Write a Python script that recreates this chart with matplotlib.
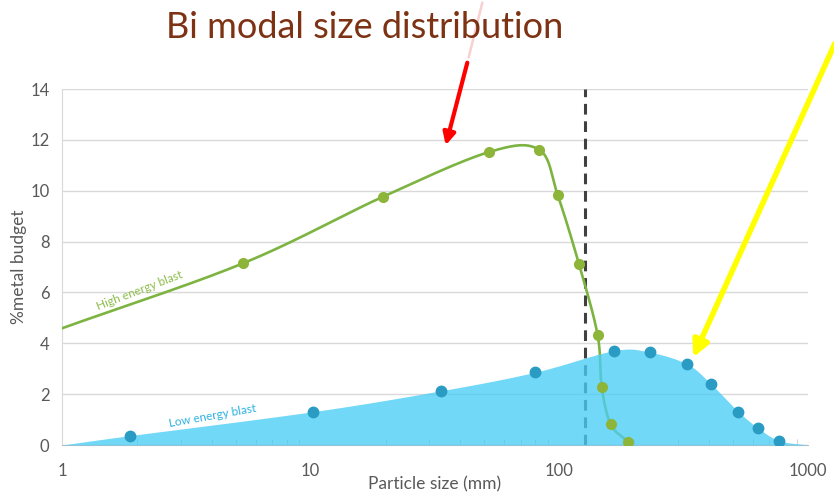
import numpy as np
import matplotlib
matplotlib.use("Agg")
import matplotlib.pyplot as plt

plt.rcParams['font.family'] = ['Lato', 'DejaVu Sans']

# high energy blast (green), first point is where the line meets the axis
high_x = [1, 5.36, 19.5, 52.1, 83, 98.4, 120, 142.5, 148, 161, 189]
high_y = [4.59, 7.15, 9.76, 11.52, 11.61, 9.84, 7.11, 4.33, 2.3, 0.81, 0.13]

# low energy blast (blue area), ends sit on the axis
low_x = [1, 1.88, 10.2, 33.3, 79.8, 165.7, 231, 327, 407, 525, 631, 766, 1000]
low_y = [0, 0.37, 1.31, 2.13, 2.86, 3.71, 3.65, 3.18, 2.4, 1.31, 0.66, 0.17, 0]

cut_size = 127
x_ticks = [1, 10, 100, 1000]
y_ticks = [0, 2, 4, 6, 8, 10, 12, 14]


def smooth(xs, ys, n=40):
    # catmull-rom through the points in log-x space, like excel's smoothed line
    px = np.log10(np.asarray(xs, float))
    py = np.asarray(ys, float)
    px = np.concatenate([[2 * px[0] - px[1]], px, [2 * px[-1] - px[-2]]])
    py = np.concatenate([[2 * py[0] - py[1]], py, [2 * py[-1] - py[-2]]])
    outx, outy = [], []
    t = np.linspace(0, 1, n)
    for i in range(1, len(px) - 2):
        for arr, out in ((px, outx), (py, outy)):
            p0, p1, p2, p3 = arr[i - 1], arr[i], arr[i + 1], arr[i + 2]
            seg = 0.5 * ((2 * p1) + (-p0 + p2) * t
                         + (2 * p0 - 5 * p1 + 4 * p2 - p3) * t ** 2
                         + (-p0 + 3 * p1 - 3 * p2 + p3) * t ** 3)
            out.extend(seg)
    return 10 ** np.array(outx), np.array(outy)


fig = plt.figure(figsize=(8.34, 4.93), dpi=100)
ax = fig.add_axes([62 / 834, 48 / 493, 746 / 834, 356 / 493])

ax.set_xscale('log')
ax.set_xlim(1, 1000)
ax.set_ylim(0, 14)

ax.grid(axis='y', color='#d9d9d9', lw=1)
ax.set_axisbelow(True)

ax.plot([cut_size, cut_size], [0, 14], color='#404040', lw=2.2,
        linestyle=(0, (3.5, 2.2)), zorder=2)

gx, gy = smooth(high_x, high_y)
ax.plot(gx, gy, color='#7db441', lw=1.9, zorder=3)

bx, by = smooth(low_x, low_y)
by = np.clip(by, 0, None)
ax.fill_between(bx, 0, by, color='#4bcdf5', alpha=0.78, lw=0, zorder=4)

ax.plot(high_x[1:], high_y[1:], 'o', color='#8db53a', ms=7, zorder=5)
ax.plot(low_x[1:-1], low_y[1:-1], 'o', color='#2a9cc4', ms=7.5, zorder=5)

ax.set_xticks(x_ticks)
ax.set_xticklabels([str(v) for v in x_ticks])
ax.set_yticks(y_ticks)
ax.tick_params(axis='both', which='major', labelsize=12, labelcolor='#595959',
               length=0)
ax.tick_params(axis='x', which='major', pad=13)
ax.tick_params(axis='y', pad=9)
ax.tick_params(axis='x', which='minor', direction='in', length=4,
               color='#c8c8c8', labelbottom=False)

for s in ['top', 'right']:
    ax.spines[s].set_visible(False)
ax.spines['left'].set_color('#d9d9d9')
ax.spines['bottom'].set_color('#bfbfbf')

ax.set_xlabel('Particle size (mm)', fontsize=12.5, color='#595959', labelpad=-2)
ax.set_ylabel('%metal budget', fontsize=12.5, color='#595959', labelpad=2)

ax.text(2.06, 6.06, 'High energy blast', color='#8cbc4a', fontsize=8.5,
        rotation=21, ha='center', va='center', zorder=6)
ax.text(4.05, 1.14, 'Low energy blast', color='#2cb0e0', fontsize=8.5,
        rotation=10, ha='center', va='center', zorder=6)

fig.text(365 / 834, 1 - 27 / 493, 'Bi modal size distribution', color='#7d3214',
         fontsize=26, ha='center', va='center')

# arrows pointing at the two modes
ax.annotate('', xy=(468, 433), xytext=(483, 493), xycoords='figure pixels',
            arrowprops=dict(arrowstyle='-', color='#f8c4c4', lw=1.8, alpha=0.8),
            annotation_clip=False)
ax.annotate('', xy=(445, 345), xytext=(468, 433), xycoords='figure pixels',
            arrowprops=dict(arrowstyle='-|>', color='red', lw=3, mutation_scale=18),
            annotation_clip=False)
ax.annotate('', xy=(692, 133), xytext=(836, 452), xycoords='figure pixels',
            arrowprops=dict(arrowstyle='-|>', color='yellow', lw=4, mutation_scale=24),
            annotation_clip=False)

fig.savefig('out.png', dpi=100)
